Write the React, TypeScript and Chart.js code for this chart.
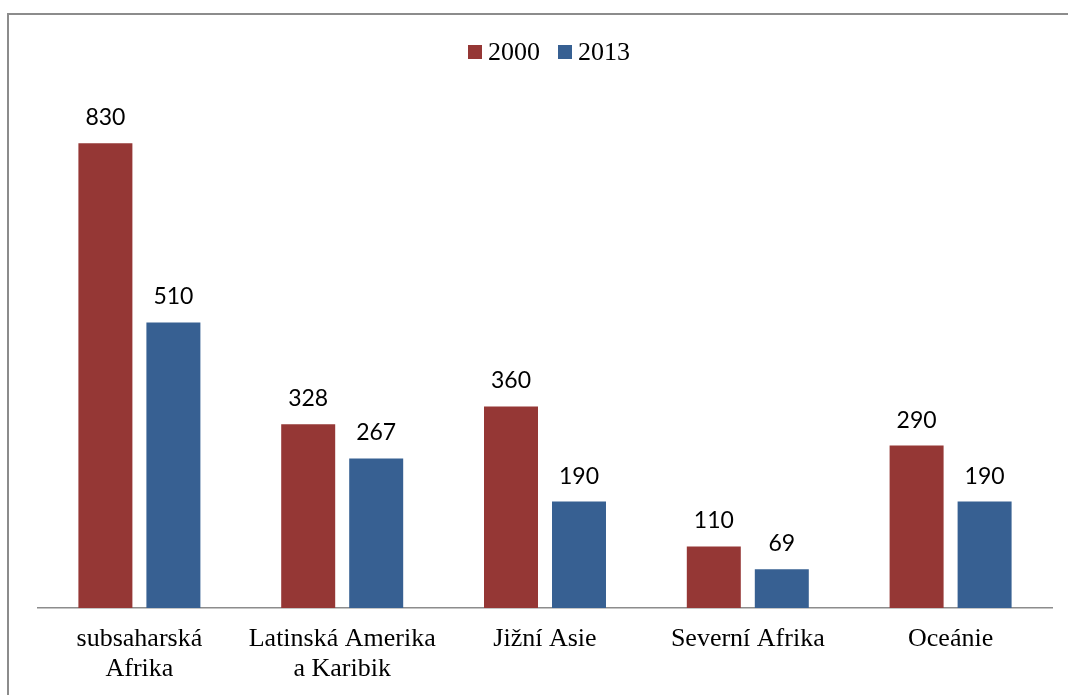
import React, { useEffect, useRef } from "react";
import { Chart, registerables } from "chart.js";

Chart.register(...registerables);

const categories: string[][] = [
  ["subsaharská", "Afrika"],
  ["Latinská Amerika", "a Karibik"],
  ["Jižní Asie"],
  ["Severní Afrika"],
  ["Oceánie"],
];
const values2000 = [830, 328, 360, 110, 290];
const values2013 = [510, 267, 190, 69, 190];
const seriesLabels = ["2000", "2013"];
const seriesColors = ["#953735", "#376092"];

const W = 1068;
const H = 695;
const SERIF = "'Liberation Serif', 'Times New Roman', serif";
const SANS = "Lato, 'Open Sans', sans-serif";

const framePlugin = {
  id: "frame",
  beforeDraw(chart: any) {
    const ctx = chart.ctx;
    ctx.save();
    ctx.fillStyle = "#ffffff";
    ctx.fillRect(0, 0, chart.width, chart.height);
    ctx.strokeStyle = "#8c8c8c";
    ctx.lineWidth = 2;
    ctx.strokeRect(8, 14, chart.width + 40, chart.height + 40);
    ctx.restore();
  },
};

const legendPlugin = {
  id: "customLegend",
  afterDraw(chart: any) {
    const ctx = chart.ctx;
    ctx.save();
    ctx.font = `26px ${SERIF}`;
    ctx.textBaseline = "alphabetic";
    ctx.textAlign = "left";
    let x = 468;
    chart.data.datasets.forEach((ds: any, i: number) => {
      ctx.fillStyle = ds.backgroundColor;
      ctx.fillRect(x, 45, 14, 14);
      ctx.fillStyle = "#000";
      ctx.fillText(ds.label, x + 20, 60);
      x += 20 + ctx.measureText(ds.label).width + 18;
    });
    ctx.restore();
  },
};

const valueLabelPlugin = {
  id: "valueLabels",
  afterDatasetsDraw(chart: any) {
    const ctx = chart.ctx;
    ctx.save();
    ctx.font = `23px ${SANS}`;
    ctx.fillStyle = "#000";
    ctx.textAlign = "center";
    ctx.textBaseline = "alphabetic";
    chart.data.datasets.forEach((ds: any, i: number) => {
      const meta = chart.getDatasetMeta(i);
      meta.data.forEach((el: any, j: number) => {
        ctx.fillText(String(ds.data[j]), el.x, el.y - 18);
      });
    });
    ctx.restore();
  },
};

export default function App() {
  const ref = useRef<HTMLCanvasElement | null>(null);

  useEffect(() => {
    if (!ref.current) return;
    const chart = new Chart(ref.current, {
      type: "bar",
      data: {
        labels: categories,
        datasets: [
          {
            label: seriesLabels[0],
            data: values2000,
            backgroundColor: seriesColors[0],
            borderWidth: 0,
            categoryPercentage: 0.6706,
            barPercentage: 0.794,
          },
          {
            label: seriesLabels[1],
            data: values2013,
            backgroundColor: seriesColors[1],
            borderWidth: 0,
            categoryPercentage: 0.6706,
            barPercentage: 0.794,
          },
        ],
      },
      options: {
        responsive: false,
        animation: false,
        layout: { padding: { top: 104, left: 38, right: 16, bottom: 0 } },
        plugins: {
          legend: { display: false },
          tooltip: { enabled: false },
        },
        scales: {
          y: { display: false, min: 0, max: 900 },
          x: {
            grid: { display: false, drawTicks: false },
            border: { display: true, color: "#8c8c8c", width: 1.5 },
            ticks: {
              color: "#000",
              padding: 16,
              maxRotation: 0,
              autoSkip: false,
              font: { family: SERIF, size: 26, lineHeight: 30 / 26 },
            },
            afterFit: (s: any) => {
              s.height = 87;
            },
          },
        },
      },
      plugins: [framePlugin, valueLabelPlugin, legendPlugin],
    });
    return () => chart.destroy();
  }, []);

  return (
    <div style={{ position: "absolute", left: 0, top: 0, width: W, height: H }}>
      <canvas ref={ref} width={W} height={H} style={{ display: "block" }} />
    </div>
  );
}
